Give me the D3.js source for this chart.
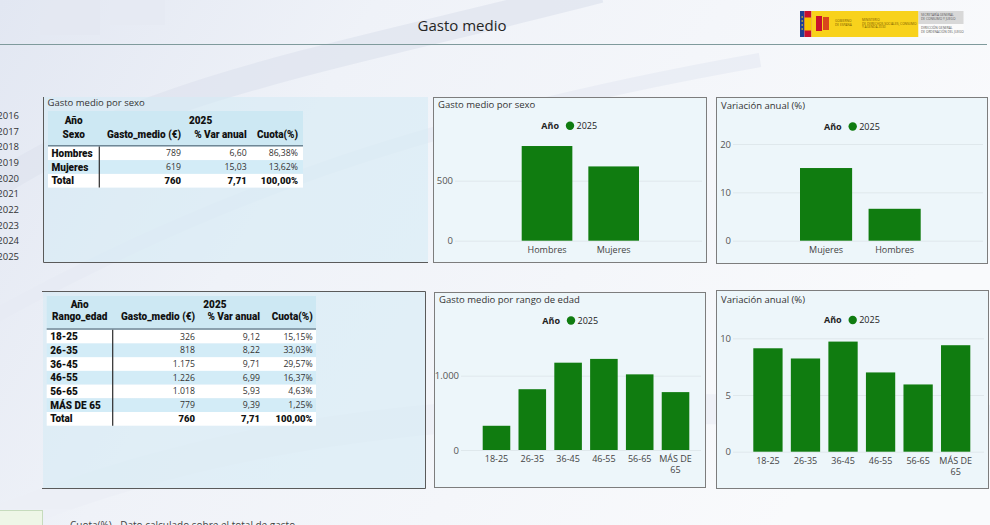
<!DOCTYPE html>
<html>
<head>
<meta charset="utf-8">
<script src="https://cdn.jsdelivr.net/npm/d3@7"></script>
<style>
body { margin: 0; background: #f6f7fb; overflow: hidden; }
svg { display: block; }
text { font-family: "Segoe UI", "Open Sans", sans-serif; }
.heavy { font-family: Roboto, "Liberation Sans", sans-serif; font-weight: 900; }
</style>
</head>
<body>
<svg id="chart" width="990" height="525"></svg>
<script>
const years = ['2016', '2017', '2018', '2019', '2020', '2021', '2022', '2023', '2024', '2025'];
const legendYear = '2025';

const sexoCats = ['Hombres', 'Mujeres'];
const sexoGasto = [789, 619];
const sexoVar = [6.60, 15.03];
const sexoCuota = [86.38, 13.62];

const edadCats = ['18-25', '26-35', '36-45', '46-55', '56-65', 'MÁS DE 65'];
const edadGasto = [326, 818, 1175, 1226, 1018, 779];
const edadVar = [9.12, 8.22, 9.71, 6.99, 5.93, 9.39];
const edadCuota = [15.15, 33.03, 29.57, 16.37, 4.63, 1.25];

const totalRow = { gasto: 760, vari: 7.71, cuota: 100 };

const es = d3.formatLocale({ decimal: ',', thousands: '.', grouping: [3], currency: ['', '€'] });
const fInt = es.format(',.0f');
const fDec = es.format(',.2f');

const svg = d3.select('#chart');
const green = '#107c10';

// background with faint watermark
const defs = svg.append('defs');
const grad = defs.append('linearGradient').attr('id', 'bg').attr('x1', 0).attr('x2', 1).attr('y1', 0).attr('y2', 0.3);
grad.append('stop').attr('offset', 0).attr('stop-color', '#e2e7f2');
grad.append('stop').attr('offset', 0.35).attr('stop-color', '#eff2f8');
grad.append('stop').attr('offset', 1).attr('stop-color', '#f9fafc');
svg.append('rect').attr('width', 990).attr('height', 525).attr('fill', 'url(#bg)');

const marks = svg.append('g').attr('fill', 'none').attr('stroke', '#dfe4ef').attr('opacity', 0.7);
marks.append('path').attr('d', 'M-40,210 C120,90 330,60 600,-10').attr('stroke-width', 26);
marks.append('path').attr('d', 'M-30,330 C200,200 420,120 760,60').attr('stroke-width', 14).attr('stroke', '#e7ebf4');
marks.append('path').attr('d', 'M0,520 C250,420 520,390 990,420').attr('stroke-width', 30).attr('stroke', '#eceff6');
marks.append('rect').attr('x', 40).attr('y', -5).attr('width', 60).attr('height', 40).attr('fill', '#e4e8f2').attr('stroke', 'none');
marks.append('rect').attr('x', 110).attr('y', -5).attr('width', 55).attr('height', 30).attr('fill', '#e6eaf3').attr('stroke', 'none');

// header
svg.append('text').attr('x', 462).attr('y', 26).attr('dy', '0.35em').attr('text-anchor', 'middle')
	.attr('font-size', 15).attr('fill', '#252525').text('Gasto medio');
svg.append('line').attr('x1', 0).attr('x2', 987).attr('y1', 44.5).attr('y2', 44.5).attr('stroke', '#7f9a9c').attr('stroke-width', 1);

// logo
const logo = svg.append('g');
logo.append('rect').attr('x', 800).attr('y', 11).attr('width', 4.5).attr('height', 26).attr('fill', '#1f3f93');
[17, 21, 25, 29].forEach(y => logo.append('circle').attr('cx', 802.2).attr('cy', y).attr('r', 0.8).attr('fill', '#f6d21a'));
logo.append('rect').attr('x', 804.5).attr('y', 11).attr('width', 7).attr('height', 26).attr('fill', '#c8102e');
logo.append('rect').attr('x', 804.5).attr('y', 17.5).attr('width', 7).attr('height', 13).attr('fill', '#f6c600');
logo.append('rect').attr('x', 811.5).attr('y', 11).attr('width', 107).attr('height', 26).attr('fill', '#f8d21c');
logo.append('rect').attr('x', 816).attr('y', 16).attr('width', 6).attr('height', 15).attr('fill', '#c8102e');
logo.append('rect').attr('x', 823).attr('y', 17).attr('width', 6).attr('height', 13).attr('fill', '#d9471c');
logo.append('rect').attr('x', 918.5).attr('y', 11).attr('width', 45).attr('height', 13).attr('fill', '#d8d8d8');
logo.append('rect').attr('x', 918.5).attr('y', 24).attr('width', 45).attr('height', 13).attr('fill', '#fbfbfb');
const tiny = (x, y, lines, fill) => lines.forEach((t, i) => logo.append('text').attr('x', x).attr('y', y + i * 3.6)
	.attr('font-size', 3.2).attr('fill', fill).text(t));
tiny(835, 22, ['GOBIERNO', 'DE ESPAÑA'], '#7a5a00');
tiny(862, 21, ['MINISTERIO', 'DE DERECHOS SOCIALES, CONSUMO', 'Y AGENDA 2030'], '#7a5a00');
tiny(921, 16, ['SECRETARÍA GENERAL', 'DE CONSUMO Y JUEGO'], '#555');
tiny(921, 29, ['DIRECCIÓN GENERAL', 'DE ORDENACIÓN DEL JUEGO'], '#555');

// year slicer (cut at left edge, as in the page)
svg.append('g').selectAll('text').data(years).join('text')
	.attr('x', 19).attr('y', (d, i) => 115.7 + i * 15.67).attr('dy', '0.35em').attr('text-anchor', 'end')
	.attr('font-size', 9.5).attr('fill', '#333').text(d => d);

// left panels
const panelFill = 'rgba(214,235,245,0.6)';
svg.append('rect').attr('x', 43).attr('y', 97).attr('width', 385).attr('height', 165).attr('fill', panelFill);
svg.append('path').attr('d', 'M43.5,97V262.5H428').attr('fill', 'none').attr('stroke', '#5a5a5a');
svg.append('rect').attr('x', 43).attr('y', 291).attr('width', 383).attr('height', 197).attr('fill', panelFill);
svg.append('path').attr('d', 'M42,291.5H425.5V488.5H42').attr('fill', 'none').attr('stroke', '#5a5a5a');
svg.append('text').attr('x', 47.5).attr('y', 102.5).attr('dy', '0.35em').attr('font-size', 9.5).attr('fill', '#333').text('Gasto medio por sexo');

const drawTable = o => {
	const g = svg.append('g');
	const n = o.cats.length + 1;
	g.append('rect').attr('x', o.x0).attr('y', o.hy0).attr('width', o.x1 - o.x0).attr('height', o.hy1 - o.hy0).attr('fill', '#cde8f3');
	const rows = o.cats.map((c, i) => ({ label: c, gasto: o.gasto[i], vari: o.vari[i], cuota: o.cuota[i], bold: false }))
		.concat([{ label: 'Total', gasto: totalRow.gasto, vari: totalRow.vari, cuota: totalRow.cuota, bold: true }]);
	const ry = i => o.hy1 + 1.5 + i * o.rowH;
	g.selectAll('.row').data(rows).join('rect').attr('class', 'row')
		.attr('x', o.x0).attr('y', (d, i) => ry(i)).attr('width', o.x1 - o.x0).attr('height', o.rowH)
		.attr('fill', (d, i) => i % 2 ? '#d3ecf7' : '#ffffff');
	g.append('line').attr('x1', o.x0).attr('x2', o.x1).attr('y1', o.hy1 + 0.75).attr('y2', o.hy1 + 0.75)
		.attr('stroke', '#6f8796').attr('stroke-width', 1.5);
	g.append('line').attr('x1', o.sep).attr('x2', o.sep).attr('y1', o.hy1 + 1.5).attr('y2', ry(n))
		.attr('stroke', '#2b2b2b').attr('stroke-width', 1.2);
	const c0 = (o.x0 + o.sep) / 2;
	const head = (x, y, t, anchor) => g.append('text').attr('class', 'heavy').attr('x', x).attr('y', y).attr('dy', '0.35em')
		.attr('text-anchor', anchor).attr('font-size', 10).attr('fill', '#111').text(t);
	head(c0, o.h1, 'Año', 'middle');
	head(o.yearX, o.h1, legendYear, 'start');
	head(c0, o.h2, o.rowName, 'middle');
	head(o.cols[0], o.h2, 'Gasto_medio (€)', 'end');
	head(o.cols[1], o.h2, '% Var anual', 'end');
	head(o.cols[2], o.h2, 'Cuota(%)', 'end');
	rows.forEach((d, i) => {
		const y = ry(i) + o.rowH / 2;
		g.append('text').attr('class', 'heavy').attr('x', o.x0 + 3.5).attr('y', y).attr('dy', '0.35em')
			.attr('font-size', 10).attr('fill', '#111').text(d.label);
		[fInt(d.gasto), fDec(d.vari), fDec(d.cuota) + '%'].forEach((v, k) => {
			g.append('text').attr('class', d.bold ? 'heavy' : null).attr('x', o.cols[k]).attr('y', y).attr('dy', '0.35em')
				.attr('text-anchor', 'end').attr('font-size', d.bold ? 9.5 : 8.7).attr('fill', d.bold ? '#111' : '#333').text(v);
		});
	});
};

drawTable({
	x0: 48, x1: 303, hy0: 111, hy1: 145, h1: 120, h2: 134.3, rowH: 13.7, sep: 99.3,
	yearX: 189, cols: [181, 246.7, 298], rowName: 'Sexo',
	cats: sexoCats, gasto: sexoGasto, vari: sexoVar, cuota: sexoCuota
});
drawTable({
	x0: 46.7, x1: 316, hy0: 296, hy1: 328.3, h1: 304, h2: 316.7, rowH: 13.7, sep: 112.7,
	yearX: 203.3, cols: [195, 260, 312.7], rowName: 'Rango_edad',
	cats: edadCats, gasto: edadGasto, vari: edadVar, cuota: edadCuota
});

// bar charts
const barChart = o => {
	const g = svg.append('g');
	const [bx0, by0, bx1, by1] = o.box;
	g.append('rect').attr('x', bx0 + 0.5).attr('y', by0 + 0.5).attr('width', bx1 - bx0).attr('height', by1 - by0)
		.attr('fill', '#edf6fa').attr('stroke', '#7d7d7d');
	g.append('text').attr('x', bx0 + 5).attr('y', o.titleY).attr('dy', '0.35em').attr('font-size', 9.5).attr('fill', '#333').text(o.title);

	g.append('text').attr('x', o.legendX).attr('y', o.legendY).attr('dy', '0.35em').attr('text-anchor', 'end')
		.attr('font-size', 9).attr('font-weight', 'bold').attr('fill', '#222').text('Año');
	g.append('circle').attr('cx', o.legendX + 11).attr('cy', o.legendY).attr('r', 4.2).attr('fill', green);
	g.append('text').attr('x', o.legendX + 17.5).attr('y', o.legendY).attr('dy', '0.35em')
		.attr('font-size', 9).attr('fill', '#222').text(legendYear);

	const data = o.cats.map((c, i) => ({ cat: c, value: o.values[i] }));
	if (o.sort) data.sort((a, b) => b.value - a.value);

	const x = d3.scaleBand().domain(data.map(d => d.cat)).range(o.xr).paddingInner(o.pad).paddingOuter(0);
	const y = d3.scaleLinear().domain(o.dom).range(o.yr);

	g.append('g').selectAll('line').data(o.ticks).join('line')
		.attr('x1', o.axisX + 2).attr('x2', bx1 - 4).attr('y1', d => y(d) + 0.5).attr('y2', d => y(d) + 0.5)
		.attr('stroke', '#dfe8ec').attr('stroke-width', 1);

	g.append('g').selectAll('rect').data(data).join('rect')
		.attr('x', d => x(d.cat)).attr('width', x.bandwidth())
		.attr('y', d => y(d.value)).attr('height', d => y(0) - y(d.value))
		.attr('fill', green);

	const yAxis = g.append('g').attr('transform', `translate(${o.axisX},0)`)
		.call(d3.axisLeft(y).tickValues(o.ticks).tickSize(0).tickPadding(0).tickFormat(fInt));
	yAxis.select('.domain').remove();
	yAxis.selectAll('text').attr('font-size', 9.5).attr('fill', '#555').attr('font-family', null);

	const xAxis = g.append('g').attr('transform', `translate(0,${y(0)})`)
		.call(d3.axisBottom(x).tickSize(0).tickPadding(6));
	xAxis.select('.domain').remove();
	xAxis.selectAll('text').attr('font-size', 9).attr('fill', '#444').attr('font-family', null)
		.each(function (d) {
			if (d === 'MÁS DE 65') {
				const t = d3.select(this).text(null);
				t.append('tspan').attr('x', 0).text('MÁS DE');
				t.append('tspan').attr('x', 0).attr('dy', '1.2em').text('65');
			}
		});
};

barChart({
	box: [433, 97, 706, 262], title: 'Gasto medio por sexo', titleY: 105,
	legendX: 559, legendY: 125.7, cats: sexoCats, values: sexoGasto, sort: true,
	xr: [521.7, 639], pad: 0.24, dom: [0, 800], yr: [240.7, 144.7], ticks: [0, 500], axisX: 453
});
barChart({
	box: [716, 97, 987, 263], title: 'Variación anual (%)', titleY: 105.7,
	legendX: 841.7, legendY: 126.5, cats: sexoCats, values: sexoVar, sort: true,
	xr: [800, 920.7], pad: 0.24, dom: [0, 20], yr: [240.7, 144], ticks: [0, 10, 20], axisX: 731
});
barChart({
	box: [434, 292, 705, 487], title: 'Gasto medio por rango de edad', titleY: 300,
	legendX: 560, legendY: 320.5, cats: edadCats, values: edadGasto, sort: false,
	xr: [482.7, 689.3], pad: 0.23, dom: [0, 1300], yr: [450, 353.4], ticks: [0, 1000], axisX: 459
});
barChart({
	box: [716, 290, 988, 488], title: 'Variación anual (%)', titleY: 300,
	legendX: 841.7, legendY: 320, cats: edadCats, values: edadVar, sort: false,
	xr: [753.3, 970.3], pad: 0.22, dom: [0, 10], yr: [451.7, 338.3], ticks: [0, 5, 10], axisX: 731
});

// footer
svg.append('rect').attr('x', -1).attr('y', 510.5).attr('width', 43.5).attr('height', 20).attr('fill', '#eef6e7').attr('stroke', '#c6dbbd');
svg.append('text').attr('x', 70).attr('y', 529).attr('font-size', 10).attr('fill', '#444')
	.text('Cuota(%) - Dato calculado sobre el total de gasto');
</script>
</body>
</html>
